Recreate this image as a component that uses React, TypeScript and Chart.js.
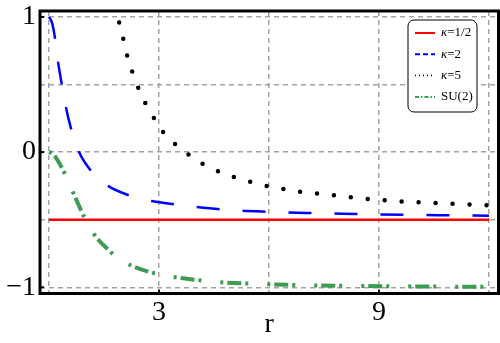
import React, { useEffect, useRef } from 'react';
import { Chart, registerables } from 'chart.js';

Chart.register(...registerables);

// κ = 1/2 (constant)
const rHalf = [0, 12];
const vHalf = [-0.5, -0.5];

// κ = 2
const rK2 = [0, 0.08, 0.16, 0.245, 0.35, 0.46, 0.6, 0.82, 1.13, 1.61, 2.17, 2.8, 3.3, 4.0, 5.0, 6.0, 7.0, 8.0, 9.0, 10.0, 11.0, 12.0];
const vK2 = [1.0, 0.96, 0.85, 0.67, 0.5, 0.335, 0.175, 0.0, -0.133, -0.25, -0.318, -0.362, -0.382, -0.405, -0.43, -0.442, -0.45, -0.456, -0.461, -0.465, -0.468, -0.471];

// κ = 5
const rK5 = [1.5, 1.7, 1.85, 1.96, 2.07, 2.17, 2.34, 2.5, 2.72, 2.96, 3.23, 3.59, 3.94, 4.35, 4.78, 5.22, 5.65, 6.1, 6.58, 7.0, 7.47, 7.96, 8.4, 8.89, 9.33, 9.78, 10.24, 10.7, 11.17, 11.63, 12.0];
const vK5 = [1.45, 1.2, 1.03, 0.91, 0.79, 0.67, 0.55, 0.43, 0.32, 0.21, 0.11, 0.03, -0.045, -0.11, -0.16, -0.2, -0.23, -0.26, -0.28, -0.3, -0.31, -0.325, -0.34, -0.35, -0.36, -0.367, -0.374, -0.378, -0.385, -0.39, -0.393];

// SU(2)
const rSU2 = [0, 0.1, 0.36, 0.5, 0.66, 0.89, 1.0, 1.16, 1.28, 1.63, 1.79, 2.11, 2.29, 2.79, 3.36, 4.08, 4.65, 5.65, 7.0, 8.37, 9.73, 11.0, 12.0];
const vSU2 = [0, -0.01, -0.12, -0.2, -0.3, -0.44, -0.5, -0.575, -0.627, -0.725, -0.765, -0.82, -0.844, -0.89, -0.922, -0.947, -0.962, -0.975, -0.985, -0.99, -0.993, -0.996, -0.997];

const xTicks = [0, 3, 6, 9, 12];
const xLabels = ['', '3', '', '9', ''];
const yTicks = [-1, -0.5, 0, 0.5, 1];
const yLabels = ['\u22121', '', '0', '', '1'];
const xTitle = 'r';

const seriesLabels = ['\u03BA=1/2', '\u03BA=2', '\u03BA=5', 'SU(2)'];
const seriesColors = ['#ff0000', '#0000ff', '#000000', '#3d9c52'];

const SERIF = '"Liberation Serif", "Times New Roman", serif';

const toPts = (xs: number[], ys: number[]) => xs.map((x, i) => ({ x, y: ys[i] }));

const framePlugin = {
  id: 'frameLegend',
  afterDatasetsDraw(chart: any) {
    const { ctx, chartArea: a, scales } = chart;
    ctx.save();
    ctx.strokeStyle = '#000';
    ctx.lineWidth = 2;
    ctx.setLineDash([]);
    xTicks.forEach((v, i) => {
      if (!xLabels[i]) return;
      const px = scales.x.getPixelForValue(v);
      ctx.beginPath();
      ctx.moveTo(px, a.bottom);
      ctx.lineTo(px, a.bottom - 4);
      ctx.stroke();
    });
    yTicks.forEach((v, i) => {
      if (!yLabels[i]) return;
      const py = scales.y.getPixelForValue(v);
      ctx.beginPath();
      ctx.moveTo(a.left, py);
      ctx.lineTo(a.left + 4, py);
      ctx.stroke();
    });
    ctx.lineWidth = 3;
    ctx.strokeRect(a.left, a.top, a.right - a.left, a.bottom - a.top);
    ctx.restore();
  },
  afterDraw(chart: any) {
    const { ctx, chartArea: a } = chart;
    const w = 69;
    const h = 92;
    const left = a.right - 21.5 - w;
    const top = a.top + 9;
    ctx.save();
    ctx.beginPath();
    if (ctx.roundRect) {
      ctx.roundRect(left, top, w, h, 6);
    } else {
      ctx.rect(left, top, w, h);
    }
    ctx.fillStyle = '#ffffff';
    ctx.fill();
    ctx.strokeStyle = '#000';
    ctx.lineWidth = 1;
    ctx.stroke();

    const dashes = [[], [5, 3], [1, 3], [4, 2, 1.5, 2]];
    const widths = [2, 2, 1.5, 2];
    seriesLabels.forEach((lab, i) => {
      const y = top + 13 + i * 21.3;
      ctx.beginPath();
      ctx.setLineDash(dashes[i]);
      ctx.strokeStyle = seriesColors[i];
      ctx.lineWidth = widths[i];
      ctx.moveTo(left + 7, y);
      ctx.lineTo(left + 27, y);
      ctx.stroke();
      ctx.setLineDash([]);
      ctx.fillStyle = '#000';
      ctx.textBaseline = 'middle';
      ctx.textAlign = 'left';
      let x = left + 33;
      if (lab.startsWith('\u03BA')) {
        ctx.font = 'italic 13px ' + SERIF;
        ctx.fillText('\u03BA', x, y);
        x += ctx.measureText('\u03BA').width;
        ctx.font = '13px ' + SERIF;
        ctx.fillText(lab.slice(1), x, y);
      } else {
        ctx.font = '13px ' + SERIF;
        ctx.fillText(lab, x, y);
      }
    });
    ctx.restore();
  },
};

export default function App() {
  const ref = useRef<HTMLCanvasElement | null>(null);

  useEffect(() => {
    if (!ref.current) return;
    const tickFont = { family: SERIF, size: 28 };
    const chart = new Chart(ref.current, {
      type: 'line',
      data: {
        datasets: [
          {
            label: seriesLabels[0],
            data: toPts(rHalf, vHalf),
            borderColor: seriesColors[0],
            borderWidth: 2.5,
            pointRadius: 0,
            clip: 0,
            order: 4,
          },
          {
            label: seriesLabels[1],
            data: toPts(rK2, vK2),
            borderColor: seriesColors[1],
            borderWidth: 2.5,
            borderDash: [23, 23],
            pointRadius: 0,
            cubicInterpolationMode: 'monotone',
            clip: 0,
            order: 3,
          },
          {
            label: seriesLabels[2],
            data: toPts(rK5, vK5),
            borderColor: seriesColors[2],
            borderWidth: 4.5,
            borderDash: [0, 17],
            borderCapStyle: 'round',
            pointRadius: 0,
            cubicInterpolationMode: 'monotone',
            clip: 0,
            order: 2,
          },
          {
            label: seriesLabels[3],
            data: toPts(rSU2, vSU2),
            borderColor: seriesColors[3],
            borderWidth: 4,
            borderDash: [3, 4, 14, 4, 3, 19],
            pointRadius: 0,
            cubicInterpolationMode: 'monotone',
            clip: 0,
            order: 1,
          },
        ],
      } as any,
      options: {
        animation: false,
        responsive: false,
        parsing: false as any,
        layout: { padding: { left: 0, top: 11, right: 1.5, bottom: 0 } },
        plugins: { legend: { display: false }, tooltip: { enabled: false } },
        scales: {
          x: {
            type: 'linear',
            min: -0.245,
            max: 12.26,
            afterBuildTicks: (s: any) => {
              s.ticks = xTicks.map((v) => ({ value: v }));
            },
            afterFit: (s: any) => {
              s.height = 49.5;
              s.paddingLeft = 0;
              s.paddingRight = 0;
            },
            ticks: {
              callback: (_v: any, i: number) => xLabels[i] ?? '',
              font: tickFont,
              color: '#000',
              padding: 2,
              maxRotation: 0,
              autoSkip: false,
            },
            grid: { color: '#a3a3a3', lineWidth: 1.5, drawTicks: false, borderDash: [5, 4] } as any,
            border: { display: false, dash: [5, 4] },
            title: {
              display: true,
              text: xTitle,
              font: tickFont,
              color: '#000',
              padding: { top: 0, bottom: 2 },
            },
          },
          y: {
            type: 'linear',
            min: -1.046,
            max: 1.044,
            afterBuildTicks: (s: any) => {
              s.ticks = yTicks.map((v) => ({ value: v }));
            },
            afterFit: (s: any) => {
              s.width = 40;
              s.paddingTop = 0;
              s.paddingBottom = 0;
            },
            ticks: {
              callback: (_v: any, i: number) => yLabels[i] ?? '',
              font: tickFont,
              color: '#000',
              padding: 4,
              autoSkip: false,
            },
            grid: { color: '#a3a3a3', lineWidth: 1.5, drawTicks: false, borderDash: [5, 4] } as any,
            border: { display: false, dash: [5, 4] },
          },
        },
      } as any,
      plugins: [framePlugin],
    });
    return () => chart.destroy();
  }, []);

  return (
    <div style={{ position: 'absolute', left: 0, top: 0, width: 500, height: 343, background: '#fff' }}>
      <canvas ref={ref} width={500} height={343} style={{ display: 'block' }} />
    </div>
  );
}
